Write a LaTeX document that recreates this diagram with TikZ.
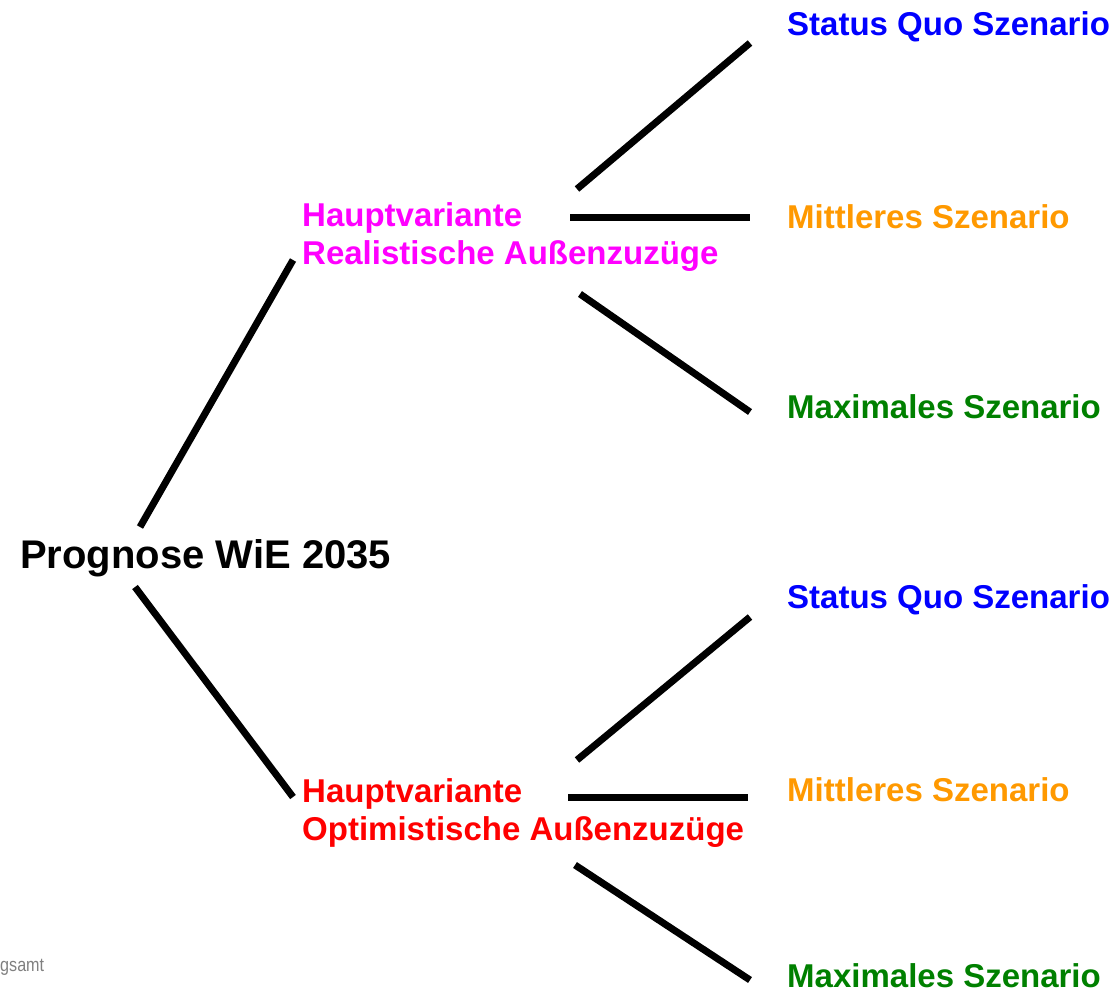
\documentclass[tikz,border=0pt]{standalone}
\usepackage{fontspec}
\setmainfont{Liberation Sans}
\newfontfamily\srcfont[FakeStretch=0.85]{Liberation Sans}
\usetikzlibrary{calc}
\definecolor{hvmag}{HTML}{FF00FF}
\definecolor{hvred}{HTML}{FF0000}
\definecolor{szblue}{HTML}{0000FF}
\definecolor{szorange}{HTML}{FF9900}
\definecolor{szgreen}{HTML}{008000}
\definecolor{srcgray}{HTML}{808080}
\tikzset{
	lbl/.style={anchor=base west, inner sep=0pt, font=\fontsize{33}{38}\selectfont\bfseries, align=left},
	branch/.style={line width=7pt, line cap=butt, black}
}
\begin{document}
\begin{tikzpicture}[x=1pt, y=-1pt]
	\useasboundingbox (0,0) rectangle (1115,995);
	% Wurzel und Hauptvarianten (base = letzte Zeile)
	\node[lbl, font=\fontsize{40}{46}\selectfont\bfseries] (prog) at (20,568) {Prognose WiE 2035};
	\node[lbl, hvmag] (real) at (302,264) {Hauptvariante\\Realistische Außenzuzüge};
	\node[lbl, hvred] (opti) at (302,840) {Hauptvariante\\Optimistische Außenzuzüge};
	% Szenarien
	\node[lbl, szblue] (sq1) at (787,36) {Status Quo Szenario};
	\node[lbl, szorange] (mid1) at (787,228) {Mittleres Szenario};
	\node[lbl, szgreen] (max1) at (787,418) {Maximales Szenario};
	\node[lbl, szblue] (sq2) at (787,608) {Status Quo Szenario};
	\node[lbl, szorange] (mid2) at (787,801) {Mittleres Szenario};
	\node[lbl, szgreen] (max2) at (787,987) {Maximales Szenario};
	% Quelle (abgeschnitten)
	\node[anchor=base west, inner sep=0pt, srcgray, font=\fontsize{19}{21}\srcfont] (src) at (0,971) {gsamt};
	% Verbindungen
	\draw[branch] ([shift={(120,-41)}]prog.base west) -- ([shift={(-9,-4)}]real.base west);
	\draw[branch] ([shift={(115,19)}]prog.base west) -- ([shift={(-9,-43)}]opti.base west);
	\draw[branch] ([shift={(275,-75)}]real.base west) -- ([shift={(-37,7)}]sq1.base west);
	\draw[branch] ([shift={(268,-47)}]real.base west) -- ([shift={(-37,-11)}]mid1.base west);
	\draw[branch] ([shift={(278,30)}]real.base west) -- ([shift={(-37,-6)}]max1.base west);
	\draw[branch] ([shift={(275,-80)}]opti.base west) -- ([shift={(-37,9)}]sq2.base west);
	\draw[branch] ([shift={(266,-43)}]opti.base west) -- ([shift={(-39,-4)}]mid2.base west);
	\draw[branch] ([shift={(273,25)}]opti.base west) -- ([shift={(-37,-7)}]max2.base west);
\end{tikzpicture}
\end{document}
